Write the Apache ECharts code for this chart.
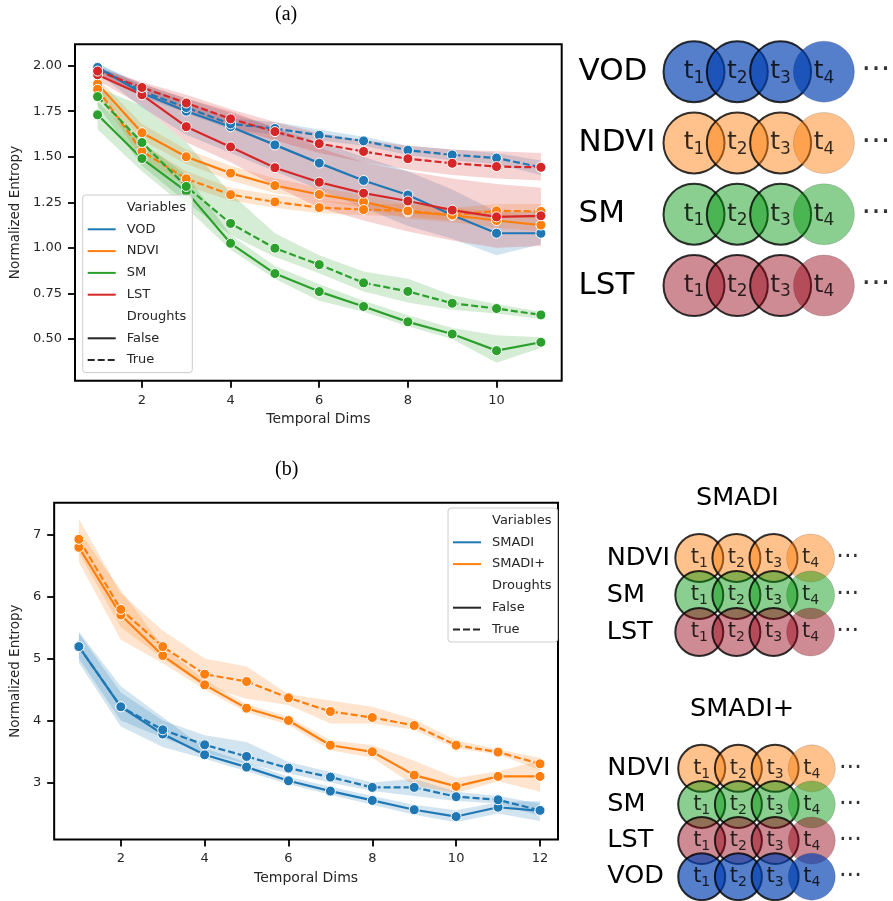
<!DOCTYPE html>
<html><head><meta charset="utf-8">
<script src="https://cdn.jsdelivr.net/npm/echarts@6/dist/echarts.min.js"></script>
<style>html,body{margin:0;padding:0;background:#fff}#c{width:893px;height:901px}</style>
</head><body><div id="c"></div>
<script>
// ---------- Chart (a) ----------
const dimsA = [1,2,3,4,5,6,7,8,9,10,11];
const vodFalse  = [1.99,1.85,1.75,1.665,1.565,1.465,1.37,1.29,1.18,1.08,1.08];
const vodTrue   = [1.99,1.86,1.77,1.68,1.655,1.618,1.587,1.536,1.51,1.493,1.442];
const ndviFalse = [1.90,1.632,1.50,1.41,1.342,1.293,1.252,1.197,1.179,1.15,1.125];
const ndviTrue  = [1.87,1.53,1.379,1.292,1.252,1.221,1.21,1.203,1.18,1.203,1.20];
const smFalse   = [1.73,1.49,1.31,1.025,0.859,0.76,0.678,0.594,0.527,0.436,0.482];
const smTrue    = [1.83,1.578,1.337,1.134,0.998,0.908,0.808,0.761,0.696,0.667,0.632];
const lstFalse  = [1.95,1.84,1.665,1.554,1.44,1.36,1.30,1.257,1.207,1.17,1.176];
const lstTrue   = [1.97,1.88,1.795,1.708,1.638,1.572,1.529,1.489,1.464,1.446,1.442];

const vodFalseLo  = [1.96,1.77,1.62,1.52,1.42,1.32,1.22,1.12,1.05,0.96,1.02];
const vodFalseHi  = [2.01,1.90,1.82,1.74,1.66,1.58,1.50,1.42,1.32,1.20,1.20];
const vodTrueLo   = [1.97,1.83,1.74,1.65,1.62,1.59,1.56,1.51,1.48,1.46,1.40];
const vodTrueHi   = [2.01,1.89,1.80,1.71,1.69,1.65,1.61,1.56,1.54,1.52,1.48];
const ndviFalseLo = [1.87,1.59,1.46,1.37,1.30,1.26,1.22,1.16,1.14,1.11,1.09];
const ndviFalseHi = [1.93,1.68,1.54,1.45,1.38,1.33,1.29,1.24,1.22,1.20,1.17];
const ndviTrueLo  = [1.84,1.49,1.34,1.26,1.22,1.19,1.18,1.17,1.15,1.17,1.16];
const ndviTrueHi  = [1.90,1.57,1.42,1.33,1.29,1.26,1.24,1.24,1.22,1.24,1.24];
const smFalseLo   = [1.65,1.42,1.22,0.99,0.83,0.71,0.65,0.57,0.50,0.37,0.45];
const smFalseHi   = [1.80,1.58,1.40,1.07,0.90,0.80,0.71,0.63,0.56,0.52,0.51];
const smTrueLo    = [1.78,1.45,1.25,1.07,0.95,0.86,0.76,0.70,0.66,0.64,0.61];
const smTrueHi    = [1.88,1.78,1.58,1.30,1.08,0.96,0.87,0.83,0.74,0.69,0.65];
const lstFalseLo  = [1.92,1.78,1.58,1.47,1.34,1.22,1.15,1.09,1.04,1.00,1.01];
const lstFalseHi  = [1.99,1.90,1.82,1.75,1.66,1.55,1.47,1.42,1.38,1.35,1.33];
const lstTrueLo   = [1.94,1.85,1.75,1.66,1.59,1.52,1.47,1.43,1.40,1.38,1.37];
const lstTrueHi   = [1.99,1.91,1.84,1.76,1.69,1.63,1.59,1.56,1.54,1.53,1.52];

const yTicksA = [0.5,0.75,1.0,1.25,1.5,1.75,2.0];
const xTicksA = [2,4,6,8,10];

// ---------- Chart (b) ----------
const dimsB = [1,2,3,4,5,6,7,8,9,10,11,12];
const smadiFalse  = [5.19,4.22,3.78,3.446,3.247,3.027,2.86,2.71,2.56,2.45,2.60,2.54];
const smadiTrue   = [5.19,4.22,3.848,3.607,3.419,3.231,3.086,2.92,2.92,2.77,2.72,2.55];
const smadipFalse = [6.79,5.70,5.046,4.573,4.197,3.999,3.60,3.494,3.118,2.936,3.097,3.097];
const smadipTrue  = [6.92,5.79,5.19,4.745,4.627,4.364,4.144,4.047,3.918,3.60,3.489,3.30];

const smadiFalseLo  = [4.93,3.90,3.57,3.38,3.18,2.97,2.80,2.64,2.48,2.36,2.50,2.38];
const smadiFalseHi  = [5.43,4.55,4.05,3.55,3.32,3.09,2.93,2.78,2.64,2.55,2.68,2.70];
const smadiTrueLo   = [5.00,4.00,3.72,3.48,3.30,3.15,3.00,2.86,2.78,2.70,2.66,2.46];
const smadiTrueHi   = [5.40,4.45,4.00,3.76,3.65,3.33,3.17,3.00,3.06,2.85,2.78,2.66];
const smadipFalseLo = [6.55,5.30,4.92,4.50,4.13,3.93,3.52,3.40,2.95,2.83,3.02,2.85];
const smadipFalseHi = [7.05,6.10,5.20,4.65,4.26,4.06,3.68,3.60,3.35,3.07,3.18,3.35];
const smadipTrueLo  = [6.70,5.50,5.00,4.55,4.35,4.25,3.95,3.95,3.85,3.55,3.45,3.20];
const smadipTrueHi  = [7.25,6.05,5.45,5.00,4.87,4.42,4.32,4.22,4.02,3.68,3.53,3.40];

const yTicksB = [3,4,5,6,7];
const xTicksB = [2,4,6,8,10,12];

// ---------- Diagrams ----------
const diagRowsA = ['VOD','NDVI','SM','LST'];
const diagRowsB = ['NDVI','SM','LST'];
const diagRowsBp = ['NDVI','SM','LST','VOD'];
const diagSteps = [1,2,3,4];

const C = {blue:'#1f77b4', orange:'#ff7f0e', green:'#2ca02c', red:'#d62728'};
const circleFill = {
  VOD:'rgba(0,63,177,0.83)', NDVI:'rgba(255,127,14,0.6)',
  SM:'rgba(0,150,10,0.57)', LST:'rgba(150,0,20,0.57)'
};
const FONT = 'DejaVu Sans';
const TXT = '#262626';

function hexA(hex, a){
  const n = parseInt(hex.slice(1),16);
  return 'rgba(' + (n>>16&255) + ',' + (n>>8&255) + ',' + (n&255) + ',' + a + ')';
}
function lineS(name, xs, ys, color, dashed, gi){
  return {type:'line', name:name, xAxisIndex:gi, yAxisIndex:gi, silent:true,
    data: xs.map((x,i)=>[x,ys[i]]), symbol:'circle', symbolSize:10,
    itemStyle:{color:color, borderColor:'#fff', borderWidth:1},
    lineStyle:{color:color, width:2.2, type: dashed ? [7,3] : 'solid'},
    emphasis:{disabled:true}};
}
function bandS(xs, lo, hi, color, gi){
  return {type:'custom', xAxisIndex:gi, yAxisIndex:gi, silent:true,
    data: xs.map((x,i)=>[x,lo[i],hi[i]]), encode:{x:0, y:[1,2]},
    renderItem: function(params, api){
      if (params.dataIndex !== 0) return null;
      const pts = [];
      for (let i=0;i<xs.length;i++) pts.push(api.coord([xs[i],hi[i]]));
      for (let i=xs.length-1;i>=0;i--) pts.push(api.coord([xs[i],lo[i]]));
      return {type:'polygon', shape:{points:pts}, style:{fill:hexA(color,0.2)}};
    }};
}
function dummy(name, color, dashed){
  return {type:'line', name:name, data:[], symbol:'none', xAxisIndex:0, yAxisIndex:0,
    itemStyle:{color:color}, lineStyle:{color:color, width:2.2, type: dashed ? [7,3] : 'solid'}};
}
function diagSeries(rows, gi, size, tSize, sSize){
  const out = [];
  rows.forEach(function(r){
    out.push({type:'scatter', xAxisIndex:gi, yAxisIndex:gi, silent:true, symbolSize:size,
      data: diagSteps.map(function(s){
        return {value:[s, r], itemStyle:{color:circleFill[r],
          borderColor: s<4 ? '#000' : 'rgba(0,0,0,0.25)', borderWidth: s<4 ? 2 : 0.7}};
      }),
      label:{show:true, position:'inside', formatter:function(p){return '{t|t}{s|'+p.value[0]+'}';},
        rich:{t:{fontFamily:FONT, fontSize:tSize, color:'#000', lineHeight:tSize*1.2},
              s:{fontFamily:FONT, fontSize:sSize, color:'#000', lineHeight:tSize*1.2, verticalAlign:'bottom'}}}
    });
  });
  return out;
}
function dotsSeries(rows, gi, xpos, fs){
  return {type:'scatter', xAxisIndex:gi, yAxisIndex:gi, silent:true, symbolSize:1,
    itemStyle:{color:'rgba(0,0,0,0)'},
    data: rows.map(r=>[xpos, r]),
    label:{show:true, position:'inside', formatter:'···', fontFamily:FONT, fontSize:fs, color:'#000'}};
}

const series = [];
// chart (a)
[[vodFalse,vodFalseLo,vodFalseHi,C.blue,false,'VOD False'],[vodTrue,vodTrueLo,vodTrueHi,C.blue,true,'VOD True'],
 [ndviFalse,ndviFalseLo,ndviFalseHi,C.orange,false,'NDVI False'],[ndviTrue,ndviTrueLo,ndviTrueHi,C.orange,true,'NDVI True'],
 [smFalse,smFalseLo,smFalseHi,C.green,false,'SM False'],[smTrue,smTrueLo,smTrueHi,C.green,true,'SM True'],
 [lstFalse,lstFalseLo,lstFalseHi,C.red,false,'LST False'],[lstTrue,lstTrueLo,lstTrueHi,C.red,true,'LST True']
].forEach(function(g){
  series.push(lineS(g[5], dimsA, g[0], g[3], g[4], 0));
  series.push(bandS(dimsA, g[1], g[2], g[3], 0));
});
// chart (b)
[[smadiFalse,smadiFalseLo,smadiFalseHi,C.blue,false,'SMADI False'],[smadiTrue,smadiTrueLo,smadiTrueHi,C.blue,true,'SMADI True'],
 [smadipFalse,smadipFalseLo,smadipFalseHi,C.orange,false,'SMADI+ False'],[smadipTrue,smadipTrueLo,smadipTrueHi,C.orange,true,'SMADI+ True']
].forEach(function(g){
  series.push(lineS(g[5], dimsB, g[0], g[3], g[4], 1));
  series.push(bandS(dimsB, g[1], g[2], g[3], 1));
});
// legend entries
series.push(dummy('Variables','rgba(0,0,0,0)',false));
series.push(dummy('VOD',C.blue,false));
series.push(dummy('NDVI',C.orange,false));
series.push(dummy('SM',C.green,false));
series.push(dummy('LST',C.red,false));
series.push(dummy('SMADI',C.blue,false));
series.push(dummy('SMADI+',C.orange,false));
series.push(dummy('Droughts','rgba(0,0,0,0)',false));
series.push(dummy('False','#262626',false));
series.push(dummy('True','#262626',true));
// diagrams
diagSeries(diagRowsA, 2, 61, 25, 17).forEach(s=>series.push(s));
series.push(dotsSeries(diagRowsA, 2, 5.2, 30));
diagSeries(diagRowsB, 3, 48, 21, 14).forEach(s=>series.push(s));
series.push(dotsSeries(diagRowsB, 3, 5.0, 24));
diagSeries(diagRowsBp, 4, 47, 21, 14).forEach(s=>series.push(s));
series.push(dotsSeries(diagRowsBp, 4, 5.05, 24));

function chartX(gi, min, max, ticks){
  return {gridIndex:gi, type:'value', min:min, max:max,
    axisLine:{show:false}, splitLine:{show:false},
    axisTick:{show:true, length:7, lineStyle:{color:'#000', width:1.8}, customValues:ticks},
    axisLabel:{customValues:ticks, fontFamily:FONT, fontSize:13, color:TXT, margin:13},
    name:'Temporal Dims', nameLocation:'middle', nameGap:32,
    nameTextStyle:{fontFamily:FONT, fontSize:14, color:TXT}};
}
function chartY(gi, min, max, ticks, dec, gap){
  return {gridIndex:gi, type:'value', min:min, max:max,
    axisLine:{show:false}, splitLine:{show:false},
    axisTick:{show:true, length:7, lineStyle:{color:'#000', width:1.8}, customValues:ticks},
    axisLabel:{customValues:ticks, fontFamily:FONT, fontSize:13, color:TXT, margin:13,
      formatter:function(v){return v.toFixed(dec);}},
    name:'Normalized Entropy', nameLocation:'middle', nameGap:gap,
    nameTextStyle:{fontFamily:FONT, fontSize:13.5, color:TXT}};
}
function diagX(gi, max){ return {gridIndex:gi, type:'value', min:0, max:max, show:false}; }
function diagY(gi, rows, margin, fs){
  return {gridIndex:gi, type:'category', data:rows, inverse:true,
    axisLine:{show:false}, axisTick:{show:false}, splitLine:{show:false},
    axisLabel:{align:'left', margin:margin, fontFamily:FONT, fontSize:fs, color:'#000'}};
}

const legendCommon = {orient:'vertical', itemWidth:28, itemHeight:14, itemGap:8.8,
  padding:[6,6,6,4], backgroundColor:'rgba(255,255,255,0.8)', borderColor:'#ccc', borderWidth:1, borderRadius:3,
  selectedMode:false, itemStyle:{opacity:0},
  textStyle:{fontFamily:FONT, fontSize:13, color:TXT, padding:[0,0,0,6]}};

const option = {
  animation:false,
  backgroundColor:'#fff',
  title:[
    {text:'(a)', left:275, top:5, padding:0, textStyle:{fontFamily:'Liberation Serif', fontSize:20, fontWeight:'normal', color:'#000', lineHeight:20}},
    {text:'(b)', left:275, top:460, padding:0, textStyle:{fontFamily:'Liberation Serif', fontSize:20, fontWeight:'normal', color:'#000', lineHeight:20}},
    {text:'SMADI', left:696, top:485, padding:0, textStyle:{fontFamily:FONT, fontSize:25.5, fontWeight:'normal', color:'#000', lineHeight:26}},
    {text:'SMADI+', left:690, top:696, padding:0, textStyle:{fontFamily:FONT, fontSize:25.5, fontWeight:'normal', color:'#000', lineHeight:26}}
  ],
  legend:[
    Object.assign({}, legendCommon, {left:82.7, top:195, data:['Variables','VOD','NDVI','SM','LST','Droughts','False','True']}),
    Object.assign({}, legendCommon, {left:448, top:508, data:['Variables','SMADI','SMADI+','Droughts','False','True']})
  ],
  grid:[
    {left:75, top:44.3, right:331.3, bottom:520.3, show:true, borderColor:'#000', borderWidth:2, backgroundColor:'transparent'},
    {left:53.3, top:502.7, right:335, bottom:61.5, show:true, borderColor:'#000', borderWidth:2, backgroundColor:'transparent'},
    {left:650.7, top:36, width:238.2, height:285.2},
    {left:662.2, top:539.5, width:185.5*1.1, height:111},
    {left:665, top:750.3, width:36.7*5.6, height:144.4}
  ],
  xAxis:[
    chartX(0, 0.49, 11.47, xTicksA),
    chartX(1, 0.41, 12.43, xTicksB),
    diagX(2, 5.5),
    diagX(3, 5.5),
    diagX(4, 5.6)
  ],
  yAxis:[
    chartY(0, 0.271, 2.117, yTicksA, 2, 42),
    chartY(1, 2.08, 7.51, yTicksB, 0, 20),
    diagY(2, diagRowsA, 72.2, 31),
    diagY(3, diagRowsB, 55.5, 25.5),
    diagY(4, diagRowsBp, 57.7, 25.5)
  ],
  series:series
};
const chart = echarts.init(document.getElementById('c'), null, {renderer:'canvas'});
chart.setOption(option);
</script></body></html>
